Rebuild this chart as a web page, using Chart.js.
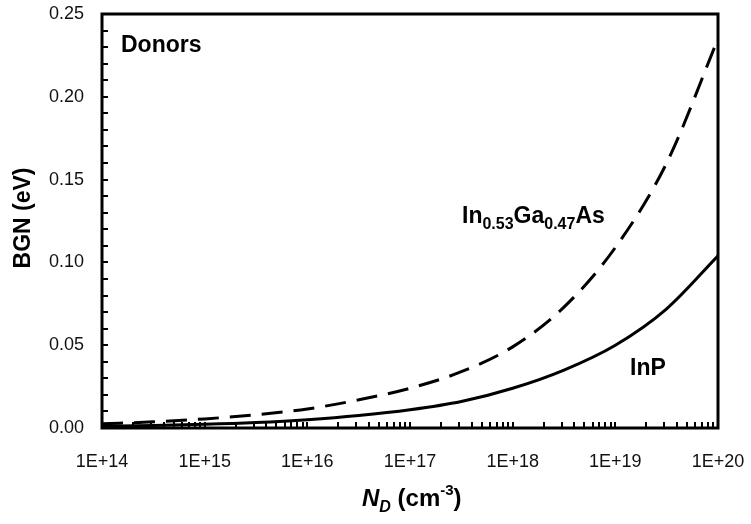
<!DOCTYPE html>
<html>
<head>
<meta charset="utf-8">
<script src="https://cdn.jsdelivr.net/npm/chart.js@4.4.1/dist/chart.umd.min.js"></script>
<style>
  html, body { margin: 0; padding: 0; background: #fff; }
  #wrap { width: 751px; height: 524px; position: relative; }
</style>
</head>
<body>
<div id="wrap"><canvas id="c" width="751" height="524"></canvas></div>
<script>
// ---- data ----
const nd = [1e14, 3.16e14, 1e15, 3.16e15, 1e16, 3.16e16, 1e17, 3.16e17, 1e18, 3.16e18, 1e19, 3.16e19, 1e20];
const bgnInGaAs = [0.0025, 0.0037, 0.0055, 0.008, 0.0115, 0.017, 0.024, 0.034, 0.049, 0.073, 0.109, 0.160, 0.235];
const bgnInP = [0.001, 0.0015, 0.0022, 0.0033, 0.005, 0.0075, 0.011, 0.016, 0.024, 0.035, 0.050, 0.072, 0.104];
const xTickValues = [1e14, 1e15, 1e16, 1e17, 1e18, 1e19, 1e20];
const xTickLabels = ["1E+14", "1E+15", "1E+16", "1E+17", "1E+18", "1E+19", "1E+20"];
const yTickValues = [0, 0.05, 0.10, 0.15, 0.20, 0.25];
const yTickLabels = ["0.00", "0.05", "0.10", "0.15", "0.20", "0.25"];
const yMinorStep = 0.01;

const FONT = "'Liberation Sans', Arial, Helvetica, sans-serif";
const INK = '#000';

function drawRich(ctx, x, y, segs) {
  let cx = x;
  for (const s of segs) {
    ctx.font = (s.italic ? 'italic ' : '') + 'bold ' + s.size + 'px ' + FONT;
    ctx.fillText(s.t, cx, y + (s.dy || 0));
    cx += ctx.measureText(s.t).width;
  }
}

const decorPlugin = {
  id: 'decor',
  afterDatasetsDraw(chart) {
    const ctx = chart.ctx;
    const xs = chart.scales.x, ys = chart.scales.y;
    const a = chart.chartArea;
    ctx.save();
    ctx.strokeStyle = INK;
    ctx.fillStyle = INK;
    ctx.lineWidth = 2;
    ctx.beginPath();
    for (let d = 14; d < 20; d++) {
      for (let m = 1; m <= 9; m++) {
        const v = m * Math.pow(10, d);
        const px = Math.round(xs.getPixelForValue(v));
        ctx.moveTo(px, a.bottom);
        ctx.lineTo(px, a.bottom - 6);
      }
    }
    for (let i = 1; i * yMinorStep < 0.25 - 1e-9; i++) {
      const py = Math.round(ys.getPixelForValue(i * yMinorStep));
      ctx.moveTo(a.left, py);
      ctx.lineTo(a.left + 6, py);
    }
    ctx.stroke();
    ctx.lineWidth = 3;
    ctx.strokeRect(a.left, a.top, a.right - a.left, a.bottom - a.top);

    ctx.textBaseline = 'alphabetic';
    ctx.textAlign = 'left';
    drawRich(ctx, 121, 52, [{t: 'Donors', size: 23}]);
    drawRich(ctx, 462, 223, [
      {t: 'In', size: 23}, {t: '0.53', size: 16, dy: 6},
      {t: 'Ga', size: 23}, {t: '0.47', size: 16, dy: 6},
      {t: 'As', size: 23}
    ]);
    drawRich(ctx, 630, 375, [{t: 'InP', size: 23}]);

    drawRich(ctx, 362, 506, [
      {t: 'N', size: 24, italic: true}, {t: 'D', size: 16, dy: 6, italic: true},
      {t: ' (cm', size: 24}, {t: '-3', size: 15, dy: -11}, {t: ')', size: 24}
    ]);
    ctx.translate(30, 218);
    ctx.rotate(-Math.PI / 2);
    ctx.textAlign = 'center';
    ctx.font = 'bold 23px ' + FONT;
    ctx.fillText('BGN (eV)', 0, 0);
    ctx.restore();
  }
};

new Chart(document.getElementById('c'), {
  type: 'line',
  data: {
    labels: nd,
    datasets: [
      {
        label: 'In0.53Ga0.47As',
        data: nd.map((x, i) => ({x: x, y: bgnInGaAs[i]})),
        borderColor: INK,
        borderWidth: 3,
        borderDash: [21, 11],
        pointRadius: 0,
        cubicInterpolationMode: 'monotone',
        fill: false
      },
      {
        label: 'InP',
        data: nd.map((x, i) => ({x: x, y: bgnInP[i]})),
        borderColor: INK,
        borderWidth: 3,
        pointRadius: 0,
        cubicInterpolationMode: 'monotone',
        fill: false
      }
    ]
  },
  options: {
    responsive: false,
    animation: false,
    devicePixelRatio: 1,
    layout: { padding: { top: 14, right: 33, left: 0, bottom: 0 } },
    plugins: { legend: { display: false }, tooltip: { enabled: false } },
    scales: {
      x: {
        type: 'logarithmic',
        min: 1e14, max: 1e20,
        grid: { display: false, drawTicks: false },
        border: { display: false },
        afterBuildTicks(scale) { scale.ticks = xTickValues.map(v => ({value: v})); },
        afterFit(scale) { scale.height = 96; scale.paddingLeft = 0; scale.paddingRight = 0; },
        ticks: {
          autoSkip: false, maxRotation: 0, padding: 23,
          color: '#111',
          font: { family: FONT, size: 18 },
          callback(value) { const i = xTickValues.indexOf(value); return i >= 0 ? xTickLabels[i] : ''; }
        }
      },
      y: {
        min: 0, max: 0.25,
        grid: { display: false, drawTicks: false },
        border: { display: false },
        afterBuildTicks(scale) { scale.ticks = yTickValues.map(v => ({value: v})); },
        afterFit(scale) { scale.width = 102; scale.paddingTop = 0; scale.paddingBottom = 0; },
        ticks: {
          padding: 18,
          color: '#111',
          font: { family: FONT, size: 18 },
          callback(value) {
            const i = yTickValues.findIndex(v => Math.abs(v - value) < 1e-9);
            return i >= 0 ? yTickLabels[i] : '';
          }
        }
      }
    }
  },
  plugins: [decorPlugin]
});
</script>
</body>
</html>
